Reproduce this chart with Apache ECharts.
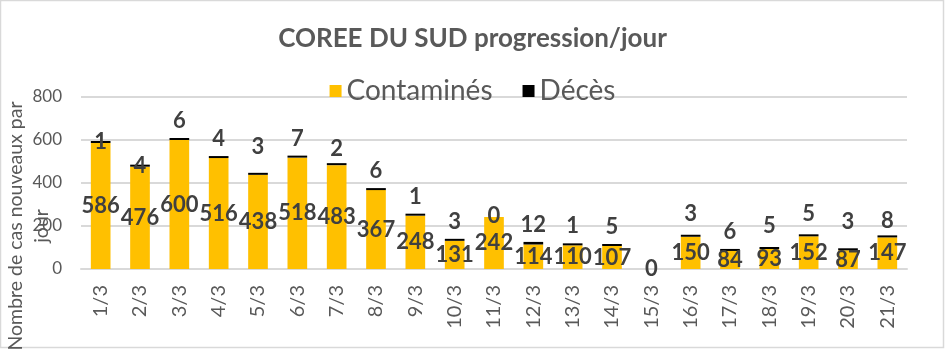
<!DOCTYPE html>
<html>
<head>
<meta charset="utf-8">
<script src="https://cdn.jsdelivr.net/npm/echarts@6/dist/echarts.min.js"></script>
<style>
  html, body { margin: 0; padding: 0; background: #fff; }
  #chart { width: 945px; height: 350px; }
</style>
</head>
<body>
<div id="chart"></div>
<script>
// Daily new cases and deaths, South Korea, March
const days = ['1/3','2/3','3/3','4/3','5/3','6/3','7/3','8/3','9/3','10/3','11/3',
              '12/3','13/3','14/3','15/3','16/3','17/3','18/3','19/3','20/3','21/3'];
const contamines = [586,476,600,516,438,518,483,367,248,131,242,114,110,107,0,150,84,93,152,87,147];
const deces = [1,4,6,4,3,7,2,6,1,3,0,12,1,5,null,3,6,5,5,3,8];
const yTicks = [0, 200, 400, 600, 800];

const FONT = 'Lato, "Open Sans", sans-serif';
const GREY = '#595959';
const DARK = '#404040';

// Vertical nudges for some death labels so they sit where they read best
const deathLabelShift = { 0: 18, 1: 18, 10: 18, 4: -9, 19: -9, 15: -4, 17: -4, 18: -3, 6: 3, 20: 3 };

const deathData = deces.map((v, i) => {
  const item = { value: v };
  if (v === 0) item.itemStyle = { color: 'rgba(0,0,0,0)' };
  if (deathLabelShift[i] !== undefined) item.label = { offset: [0, deathLabelShift[i]] };
  return item;
});

const chart = echarts.init(document.getElementById('chart'), null, { renderer: 'canvas' });
chart.setOption({
  animation: false,
  backgroundColor: '#fff',
  title: {
    text: 'COREE DU SUD progression/jour',
    left: 'center',
    top: 21,
    textStyle: { fontFamily: FONT, fontSize: 26, fontWeight: 'bold', color: GREY }
  },
  legend: {
    top: 72,
    left: 'center',
    itemWidth: 12,
    itemHeight: 12,
    itemGap: 30,
    icon: 'rect',
    textStyle: { fontFamily: FONT, fontSize: 28, color: GREY },
    data: ['Contaminés', 'Décès']
  },
  grid: { left: 81, right: 38, top: 97, bottom: 81 },
  xAxis: {
    type: 'category',
    data: days,
    axisLine: { lineStyle: { color: '#d9d9d9', width: 2 } },
    axisTick: { show: false },
    axisLabel: { rotate: 90, fontFamily: FONT, fontSize: 20, color: GREY, margin: 16 }
  },
  yAxis: {
    type: 'value',
    min: yTicks[0],
    max: yTicks[yTicks.length - 1],
    interval: yTicks[1] - yTicks[0],
    axisLine: { show: false },
    axisTick: { show: false },
    axisLabel: { fontFamily: FONT, fontSize: 17, color: GREY, margin: 19 },
    splitLine: { lineStyle: { color: '#d9d9d9', width: 2 } }
  },
  graphic: [
    {
      type: 'rect',
      shape: { x: 0.5, y: 0.5, width: 943, height: 347 },
      style: { fill: 'none', stroke: '#d9d9d9', lineWidth: 1.5 },
      silent: true
    },
    {
      type: 'text',
      x: 29,
      y: 226,
      rotation: Math.PI / 2,
      style: {
        text: 'Nombre de cas nouveaux par\njour',
        fontFamily: FONT,
        fontSize: 19.5,
        lineHeight: 26,
        fill: GREY,
        align: 'center',
        verticalAlign: 'middle'
      },
      z: 10
    }
  ],
  series: [
    {
      name: 'Contaminés',
      type: 'bar',
      stack: 'total',
      barWidth: '50%',
      itemStyle: { color: '#FFC000' },
      label: {
        show: true,
        position: 'inside',
        fontFamily: FONT,
        fontSize: 22,
        fontWeight: 'bold',
        color: DARK
      },
      data: contamines
    },
    {
      name: 'Décès',
      type: 'bar',
      stack: 'total',
      barWidth: '50%',
      barMinHeight: 2,
      itemStyle: { color: '#000' },
      label: {
        show: true,
        position: 'top',
        distance: 6,
        fontFamily: FONT,
        fontSize: 22,
        fontWeight: 'bold',
        color: DARK
      },
      data: deathData
    }
  ]
});
</script>
</body>
</html>
